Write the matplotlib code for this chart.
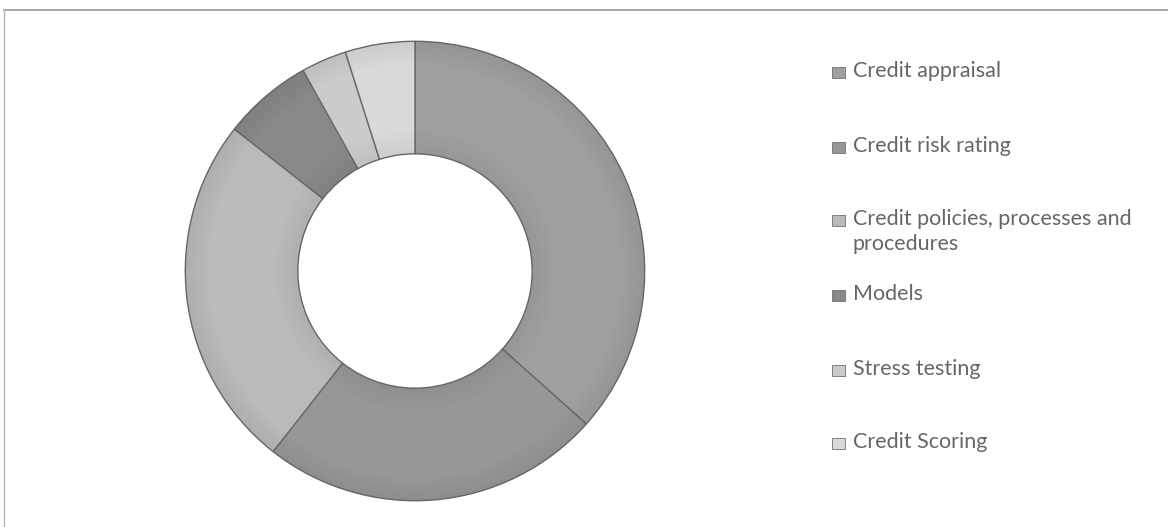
import matplotlib.pyplot as plt
from matplotlib.patches import Rectangle, Wedge

labels = ['Credit appraisal', 'Credit risk rating',
          'Credit policies, processes and\nprocedures', 'Models',
          'Stress testing', 'Credit Scoring']
shares = [36.6, 24.0, 25.0, 6.3, 3.2, 4.9]
greys = ['#9f9f9f', '#979797', '#bababa', '#888888', '#cbcbcb', '#d9d9d9']
legend_y = [72, 147, 220, 295, 370, 443]  # pixel rows of legend entries

W, H = 1168, 527
fig = plt.figure(figsize=(W / 100, H / 100), dpi=100)
fig.patch.set_facecolor('white')

# frame lines (top and left, like the cropped chart box)
fig.add_artist(plt.Line2D([4 / W, 1], [1 - 10 / H, 1 - 10 / H], color='#9a9a9a', lw=1.2))
fig.add_artist(plt.Line2D([4 / W, 4 / W], [0, 1 - 10 / H], color='#b5b5b5', lw=1.0))

# donut
cx, cy, r = 415, 271, 232
ax = fig.add_axes([(cx - r) / W, (H - cy - r) / H, 2 * r / W, 2 * r / H])
wedges, _ = ax.pie(shares, colors=greys, startangle=90, counterclock=False,
                   radius=1.0, wedgeprops=dict(width=0.49, edgecolor='#6a6a6a', linewidth=1.0))

# soft shading at outer and inner rims
for k in range(8):
    ax.add_patch(Wedge((0, 0), 1.0 - k * 0.012, 0, 360, width=0.012,
                       facecolor='black', alpha=0.06 * (8 - k) / 8, lw=0))
    ax.add_patch(Wedge((0, 0), 0.51 + (k + 1) * 0.012, 0, 360, width=0.012,
                       facecolor='black', alpha=0.05 * (8 - k) / 8, lw=0))
ax.set_xlim(-1.01, 1.01)
ax.set_ylim(-1.01, 1.01)
ax.set_aspect('equal')
ax.axis('off')

# legend
for lab, col, y in zip(labels, greys, legend_y):
    yf = 1 - y / H
    fig.add_artist(Rectangle((832 / W, yf - 6 / H), 13 / W, 11 / H,
                             facecolor=col, edgecolor='#707070', lw=0.6,
                             transform=fig.transFigure))
    fig.text(853 / W, yf + 11 / H, lab, fontsize=15.5, family='Lato',
             color='#666666', va='top', ha='left', linespacing=1.3)

fig.savefig('out.png', dpi=100)
